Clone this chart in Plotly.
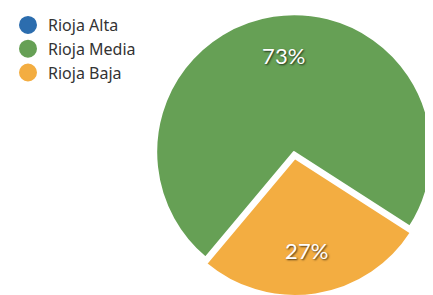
import plotly.graph_objects as go

labels = ["Rioja Alta", "Rioja Media", "Rioja Baja"]
values = [0, 73, 27]
colors = ["#2C6DAE", "#66A055", "#F3AD41"]
pulls = [0, 0, 0.045]
# per-slice label templates (blank lines nudge the label outwards, as in the original)
label_templates = ["", "%{percent:.0%}<br> <br> ", " <br>%{percent:.0%}"]

fig = go.Figure()

fig.add_trace(go.Pie(
    labels=labels,
    values=values,
    sort=False,
    direction="clockwise",
    rotation=220,
    pull=pulls,
    marker=dict(colors=colors, line=dict(color="white", width=2)),
    textinfo="percent",
    texttemplate=label_templates,
    textposition="inside",
    insidetextorientation="horizontal",
    textfont=dict(family="Lato", size=22, color="white",
                  shadow="1px 1px 2px rgba(0,0,0,0.7)"),
    domain=dict(x=[0.3227, 0.9773], y=[0.071, 1.0]),
    showlegend=False,
    hoverinfo="label+percent",
))

for lab, col in zip(labels, colors):
    fig.add_trace(go.Scatter(
        x=[None], y=[None], mode="markers", name=lab,
        marker=dict(color=col, size=16, symbol="circle",
                    line=dict(color=col, width=2)),
        showlegend=True,
    ))

fig.update_layout(
    width=440, height=310,
    margin=dict(l=0, r=0, t=0, b=0),
    paper_bgcolor="white", plot_bgcolor="white",
    xaxis=dict(visible=False), yaxis=dict(visible=False),
    legend=dict(x=0.0, y=1.0, xanchor="left", yanchor="top",
                font=dict(family="Noto Sans", size=16, color="#333333"),
                itemsizing="trace", tracegroupgap=0,
                bgcolor="rgba(0,0,0,0)"),
)

fig.write_html("out.html")
